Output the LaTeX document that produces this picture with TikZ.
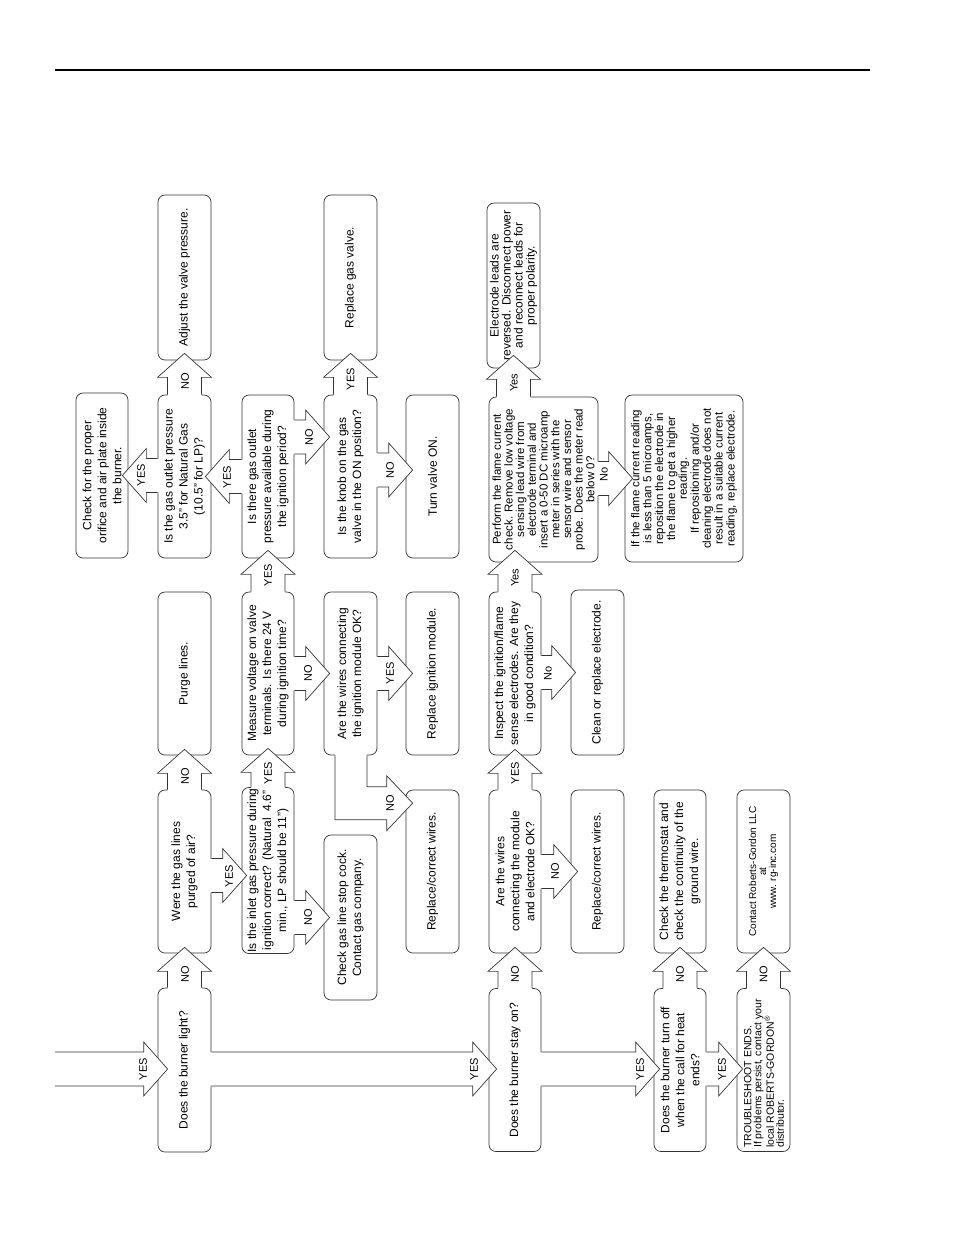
\documentclass[tikz,border=0pt]{standalone}
\usepackage{fontspec}
\setmainfont{Liberation Sans}
\usetikzlibrary{calc}
\newcommand{\arrU}[3]{%
  \fill[white] let \p1=#1, \p2=#2 in (\x2-17pt,\y1-1.5pt) -- (\x2-17pt,\y2+#3pt-24pt) -- (\x2-27pt,\y2+#3pt-24pt) -- (\x2,\y2+#3pt) -- (\x2+27pt,\y2+#3pt-24pt) -- (\x2+17pt,\y2+#3pt-24pt) -- (\x2+17pt,\y1-1.5pt) -- cycle;
  \draw[arrline] let \p1=#1, \p2=#2 in (\x2-17pt,\y1) -- (\x2-17pt,\y2+#3pt-24pt) -- (\x2-27pt,\y2+#3pt-24pt) -- (\x2,\y2+#3pt) -- (\x2+27pt,\y2+#3pt-24pt) -- (\x2+17pt,\y2+#3pt-24pt) -- (\x2+17pt,\y1);
}
\newcommand{\arrR}[3]{%
  \fill[white] let \p1=#1, \p2=#2 in (\x1-1.5pt,\y2+17pt) -- (\x2+#3pt-24pt,\y2+17pt) -- (\x2+#3pt-24pt,\y2+27pt) -- (\x2+#3pt,\y2) -- (\x2+#3pt-24pt,\y2-27pt) -- (\x2+#3pt-24pt,\y2-17pt) -- (\x1-1.5pt,\y2-17pt) -- cycle;
  \draw[arrline] let \p1=#1, \p2=#2 in (\x1,\y2+17pt) -- (\x2+#3pt-24pt,\y2+17pt) -- (\x2+#3pt-24pt,\y2+27pt) -- (\x2+#3pt,\y2) -- (\x2+#3pt-24pt,\y2-27pt) -- (\x2+#3pt-24pt,\y2-17pt) -- (\x1,\y2-17pt);
}
\newcommand{\arrL}[3]{%
  \fill[white] let \p1=#1, \p2=#2 in (\x1+1.5pt,\y2+17pt) -- (\x2-#3pt+24pt,\y2+17pt) -- (\x2-#3pt+24pt,\y2+27pt) -- (\x2-#3pt,\y2) -- (\x2-#3pt+24pt,\y2-27pt) -- (\x2-#3pt+24pt,\y2-17pt) -- (\x1+1.5pt,\y2-17pt) -- cycle;
  \draw[arrline] let \p1=#1, \p2=#2 in (\x1,\y2+17pt) -- (\x2-#3pt+24pt,\y2+17pt) -- (\x2-#3pt+24pt,\y2+27pt) -- (\x2-#3pt,\y2) -- (\x2-#3pt+24pt,\y2-27pt) -- (\x2-#3pt+24pt,\y2-17pt) -- (\x1,\y2-17pt);
}
\begin{document}
\begin{tikzpicture}[x=1pt,y=-1pt,
  box/.style={draw=black!80, line width=0.7pt, rounded corners=7pt, fill=white, rotate=90,
    minimum height=53pt, minimum width=163pt, inner sep=1pt, align=center,
    font=\fontsize{12}{15}\selectfont},
  txt/.style={rotate=90, inner sep=0pt},
  lbl/.style={rotate=90, inner sep=0pt, font=\fontsize{11}{11}\selectfont},
  arrline/.style={draw=black!80, line width=0.7pt, line join=miter},
]
\fill[white] (0,0) rectangle (954,1235);
\useasboundingbox (0,0) rectangle (954,1235);
\draw[line width=1.6pt] (55,70) -- (870,70);

% row A
\node[box, minimum width=164pt] (b1) at (184.5,1070) {Does the burner light?};
\node[box] (b3) at (184.5,871.5) {Were the gas lines\\purged of air?};
\node[box] (b6) at (184.5,673.5) {Purge lines.};
\node[box, minimum width=165pt, minimum height=52pt] (b7) at (102,475.5) {Check for the proper\\orifice and air plate inside\\the burner.};
\node[box] (b9) at (184.5,476.5) {Is the gas outlet pressure\\3.5" for Natural Gas\\(10.5" for LP)?};
\node[box, minimum width=165pt] (b11) at (184.5,277.5) {Adjust the valve pressure.};
% row B
\node[box, minimum width=165pt, minimum height=52pt] (b12) at (268,870.5) {Is the inlet gas pressure during\\ignition correct? (Natural~~4.6"\\min., LP should be 11")};
\node[box, minimum height=52pt] (b14) at (268,673.5) {Measure voltage on valve\\terminals. Is there 24 V\\during ignition time?};
\node[box, minimum height=52pt] (b16) at (268,476.5) {Is there gas outlet\\pressure available during\\the ignition period?};
% row C
\node[box] (b19) at (350.5,476.5) {Is the knob on the gas\\valve in the ON position?};
\node[box, minimum width=165pt] (b21) at (350.5,277.5) {Replace gas valve.};
\node[box] (b24) at (350.5,673.5) {Are the wires connecting\\the ignition module OK?};
\node[box, minimum width=165pt] (b30) at (350.5,917.5) {Check gas line stop cock.\\Contact gas company.};
% row D
\node[box] (b23) at (432.5,476.5) {Turn valve ON.};
\node[box] (b27) at (432.5,673.5) {Replace ignition module.};
\node[box] (b29) at (432.5,871.5) {Replace/correct wires.};
% row E
\node[box, minimum height=52pt] (b32) at (515,1070) {Does the burner stay on?};
\node[box, minimum height=52pt] (b35) at (515,871.5) {Are the wires\\connecting the module\\and electrode OK?};
\node[box, minimum height=52pt] (b39) at (515,673.5) {Inspect the ignition/flame\\sense electrodes. Are they\\in good condition?};
\node[box, minimum width=165pt, minimum height=109pt, font=\fontsize{11.5}{11.7}\selectfont] (b43) at (543.5,479.5) {Perform the flame current\\check. Remove low voltage\\sensing lead wire from\\electrode terminal and\\insert a 0-50 DC microamp\\meter in series with the\\sensor wire and sensor\\probe. Does the meter read\\below 0?};
\node[box, minimum width=165pt, font=\fontsize{12}{12}\selectfont] (b45) at (513.5,285.5) {Electrode leads are\\reversed. Disconnect power\\and reconnect leads for\\proper polarity.};
% row F
\node[box] (b37) at (597.5,871.5) {Replace/correct wires.};
\node[box, minimum width=165pt] (b42) at (597.5,672.5) {Clean or replace electrode.};
\node[box, minimum width=167pt, minimum height=118pt, font=\fontsize{11.5}{11.9}\selectfont] (b47) at (684,478.5) {If the flame current reading\\is less than 5 microamps,\\reposition the electrode in\\the flame to get a higher\\reading.\\If repositioning and/or\\cleaning electrode does not\\result in a suitable current\\reading, replace electrode.};
% row G, H
\node[box, minimum height=52pt] (b48) at (680,1070) {Does the burner turn off\\when the call for heat\\ends?};
\node[box, minimum height=52pt] (b51) at (680,871.5) {Check the thermostat and\\check the continuity of the\\ground wire.};
\node[box] (b53) at (763.5,1070) {};
\node[box, font=\fontsize{10}{10}\selectfont] (b55) at (763.5,871.5) {Contact Roberts-Gordon LLC\\at\\www. rg-inc.com};

\coordinate (in) at (55,1069);

% arrows up
\arrU{(b1.east)}{(b3.west)}{6}
\arrU{(b3.east)}{(b6.west)}{6}
\arrU{(b9.east)}{(b11.west)}{7}
\arrU{(b12.east)}{(b14.west)}{7}
\arrU{(b14.east)}{(b16.west)}{8}
\arrU{(b19.east)}{(b21.west)}{7}
\arrU{(b32.east)}{(b35.west)}{6}
\arrU{(b35.east)}{(b39.west)}{6}
\arrU{(b39.east)}{(b39.east |- b43.west)}{12}
\arrU{(b43.east)}{(b45.west)}{13}
\arrU{(b48.east)}{(b51.west)}{6}
\arrU{(b53.east)}{(b55.west)}{6}
% arrows right
\arrR{(in)}{($(b1.north)+(0,-1)$)}{10}
\arrR{(b3.south)}{($(b12.north)+(0,5)$)}{5}
\arrR{(b12.south)}{(b30.north)}{6}
\arrR{(b14.south)}{(b24.north)}{6}
\arrR{(b24.south)}{(b27.north)}{7}
\arrR{(b16.south)}{($(b19.north)+(0,-39.5)$)}{6}
\arrR{(b19.south)}{($(b23.north)+(0,-6.5)$)}{7}
\arrR{(b1.south)}{($(b32.north)+(0,-1)$)}{8}
\arrR{(b35.south)}{(b37.north)}{7}
\arrR{(b39.south)}{(b42.north)}{5}
\arrR{(b43.south)}{(b47.north)}{8}
\arrR{(b32.south)}{($(b48.north)+(0,-1)$)}{6}
\arrR{(b48.south)}{($(b53.north)+(0,-1)$)}{6}
% arrows left
\arrL{(b16.north)}{(b9.south)}{6}
\arrL{(b9.north)}{(b7.south)}{6}
% L-shaped arrow
\fill[white] let \p1=(b24.west), \p2=(b29.north east) in
  (\x1-15.5pt,\y1+1.5pt) -- (\x1-15.5pt,\y2-30pt) -- (\x2-19pt,\y2-30pt) -- (\x2-19pt,\y2-41pt) -- (\x2+7pt,\y2-13.5pt) -- (\x2-19pt,\y2+14pt) -- (\x2-19pt,\y2+3pt) -- (\x1+16.5pt,\y2+3pt) -- (\x1+16.5pt,\y1+1.5pt) -- cycle;
\draw[arrline] let \p1=(b24.west), \p2=(b29.north east) in
  (\x1-15.5pt,\y1) -- (\x1-15.5pt,\y2-30pt) -- (\x2-19pt,\y2-30pt) -- (\x2-19pt,\y2-41pt) -- (\x2+7pt,\y2-13.5pt) -- (\x2-19pt,\y2+14pt) -- (\x2-19pt,\y2+3pt) -- (\x1+16.5pt,\y2+3pt) -- (\x1+16.5pt,\y1);

% text in offset box
\node[txt, align=left, anchor=west, font=\fontsize{10.5}{10}\selectfont] (t53) at (764,1148) {TROUBLESHOOT ENDS.\\If problems persist, contact your\\local ROBERTS-GORDON\textsuperscript{®}\\distributor.};

% labels
\node[lbl] (l1) at (143,1069) {YES};
\node[lbl] (l2) at (185,974) {NO};
\node[lbl] (l3) at (185,776) {NO};
\node[lbl] (l4) at (229,876) {YES};
\node[lbl] (l5) at (185,381) {NO};
\node[lbl] (l6) at (141,475) {YES};
\node[lbl] (l7) at (227,477) {YES};
\node[lbl] (l8) at (268,773) {YES};
\node[lbl] (l9) at (268,575) {YES};
\node[lbl] (l10) at (308,917) {NO};
\node[lbl] (l11) at (308,673) {NO};
\node[lbl] (l12) at (309,437) {NO};
\node[lbl] (l13) at (350.5,379) {YES};
\node[lbl] (l14) at (390,470) {NO};
\node[lbl] (l15) at (390,673) {YES};
\node[lbl] (l16) at (390,803.5) {NO};
\node[lbl] (l17) at (474,1069) {YES};
\node[lbl] (l18) at (515,974) {NO};
\node[lbl] (l19) at (555,871) {NO};
\node[lbl] (l20) at (515,773) {YES};
\node[lbl] (l21) at (515,578) {Yes};
\node[lbl] (l22) at (548,673) {No};
\node[lbl] (l23) at (514,383) {Yes};
\node[lbl] (l24) at (604,474) {No};
\node[lbl] (l25) at (640,1069) {YES};
\node[lbl] (l26) at (680,974) {NO};
\node[lbl] (l27) at (722,1069) {YES};
\node[lbl] (l28) at (763.5,974) {NO};
\end{tikzpicture}
\end{document}
